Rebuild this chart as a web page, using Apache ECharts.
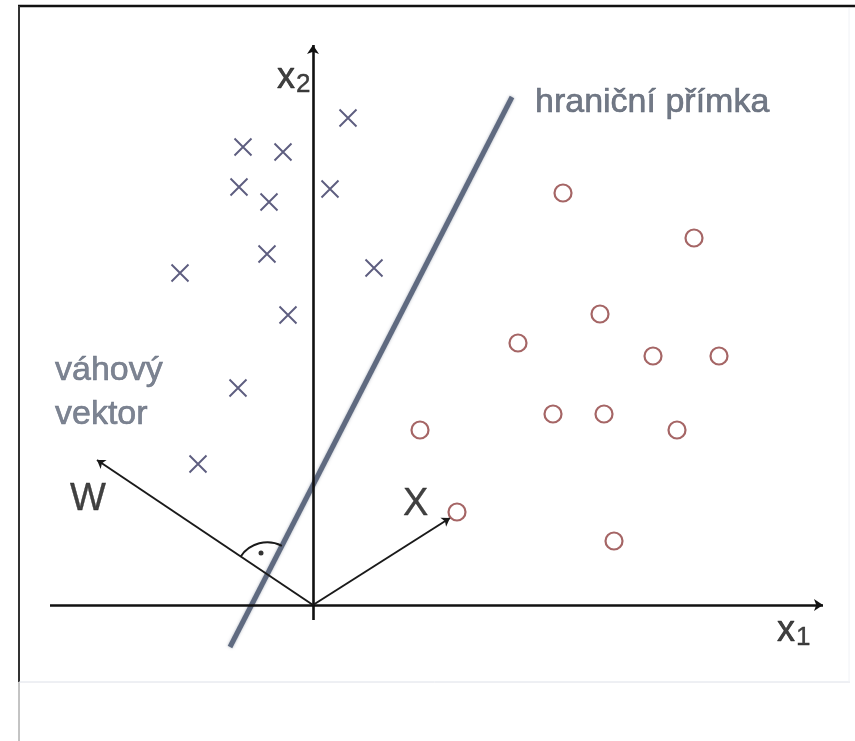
<!DOCTYPE html>
<html>
<head>
<meta charset="utf-8">
<style>
  html, body { margin: 0; padding: 0; background: #fff; }
  #chart { width: 855px; height: 741px; }
</style>
<script src="https://cdn.jsdelivr.net/npm/echarts@6/dist/echarts.min.js"></script>
</head>
<body>
<div id="chart"></div>
<script>
// x (třída 1) – souřadnice x1, x2
const crossX = [3.5, -7.0, -3.0, -7.4, 1.7, -4.4, -4.6, -13.3, 6.1, -2.5, -7.5, -11.5];
const crossY = [48.7, 45.8, 45.3, 41.8, 41.6, 40.3, 35.1, 33.2, 33.7, 29.0, 21.7, 14.1];
// o (třída 2)
const circleX = [25.0, 38.1, 28.7, 20.5, 34.0, 40.6, 24.0, 29.1, 10.7, 36.4, 14.4, 30.1];
const circleY = [41.2, 36.7, 29.1, 26.2, 24.9, 24.9, 19.1, 19.1, 17.5, 17.5, 9.3, 6.4];

// osy, vektory a hraniční přímka
const axisX1 = [[-26.3, 0], [51.0, 0]];
const axisX2 = [[0, -1.5], [0, 56.0]];
const vectorW = [[0, 0], [-21.6, 14.5]];
const vectorX = [[0, 0], [13.7, 8.7]];
const boundary = [[-8.3, -4.2], [19.9, 50.8]];
const rightAngleDot = [-5.2, 5.2];

// popisky
const labelTexts = ['hraniční přímka', 'váhový\nvektor', 'W', 'X', '{v|x}{s|2}', '{v|x}{s|1}'];
const labelPos = [[22.2, 50.2], [-25.8, 21.2], [-24.3, 10.5], [9.0, 10.0], [-3.6, 52.7], [46.4, -2.6]];

const chart = echarts.init(document.getElementById('chart'));

const zip = (xs, ys) => xs.map((x, i) => [x, ys[i]]);

function intersect(a, b) {
  // průsečík dvou přímek zadaných body (v pixelech)
  const [p1, p2] = a, [p3, p4] = b;
  const d = (p1[0] - p2[0]) * (p3[1] - p4[1]) - (p1[1] - p2[1]) * (p3[0] - p4[0]);
  const t = ((p1[0] - p3[0]) * (p3[1] - p4[1]) - (p1[1] - p3[1]) * (p3[0] - p4[0])) / d;
  return [p1[0] + t * (p2[0] - p1[0]), p1[1] + t * (p2[1] - p1[1])];
}

const subRich = {
  v: { fontSize: 36, color: '#111', fontFamily: 'Liberation Sans', textBorderColor: '#111', textBorderWidth: 0.6 },
  s: { fontSize: 26, color: '#111', padding: [14, 0, 0, 1], fontFamily: 'Liberation Sans', textBorderColor: '#111', textBorderWidth: 0.4 }
};

const labelStyles = [
  { fontSize: 34, color: '#4f5768', textBorderColor: '#4f5768', textBorderWidth: 0.6 },
  { fontSize: 34, color: '#5d6577', lineHeight: 44, textBorderColor: '#5d6577', textBorderWidth: 0.6 },
  { fontSize: 38, color: '#111', textBorderColor: '#111', textBorderWidth: 0.4 },
  { fontSize: 38, color: '#111', textBorderColor: '#111', textBorderWidth: 0.4 },
  { color: '#111', rich: subRich },
  { color: '#111', rich: subRich }
];

const option = {
  animation: false,
  backgroundColor: '#fff',
  grid: { left: 0, right: 0, top: 0, bottom: 0 },
  xAxis: { type: 'value', min: -31.3, max: 54.2, show: false },
  yAxis: { type: 'value', min: -13.6, max: 60.5, show: false },
  graphic: [
    // rámeček obrázku
    { type: 'line', shape: { x1: 18, y1: 6, x2: 855, y2: 6 }, style: { stroke: '#111', lineWidth: 2.5 } },
    { type: 'line', shape: { x1: 19, y1: 6, x2: 19, y2: 682 }, style: { stroke: '#333', lineWidth: 2 } },
    { type: 'line', shape: { x1: 19, y1: 682, x2: 19, y2: 741 }, style: { stroke: '#888', lineWidth: 1 } },
    { type: 'line', shape: { x1: 19, y1: 682, x2: 850, y2: 682 }, style: { stroke: '#dde0e8', lineWidth: 1 } },
    { type: 'line', shape: { x1: 849, y1: 8, x2: 849, y2: 682 }, style: { stroke: '#f0f2f6', lineWidth: 1 } }
  ],
  series: [
    {
      name: 'boundary',
      type: 'lines',
      coordinateSystem: 'cartesian2d',
      polyline: false,
      symbol: 'none',
      lineStyle: { color: '#5f6a80', width: 5, opacity: 1, shadowColor: 'rgba(96,107,128,0.5)', shadowBlur: 3 },
      data: [{ coords: boundary }],
      z: 2
    },
    {
      name: 'axes',
      type: 'lines',
      coordinateSystem: 'cartesian2d',
      symbol: ['none', 'arrow'],
      symbolSize: 9,
      lineStyle: { color: '#111', width: 2.6, opacity: 1 },
      data: [{ coords: axisX1 }, { coords: axisX2 }],
      z: 3
    },
    {
      name: 'vectors',
      type: 'lines',
      coordinateSystem: 'cartesian2d',
      symbol: ['none', 'arrow'],
      symbolSize: 8,
      lineStyle: { color: '#1a1a1a', width: 2, opacity: 1 },
      data: [{ coords: vectorW }, { coords: vectorX }],
      z: 3
    },
    {
      name: 'rightAngle',
      type: 'custom',
      data: [0],
      renderItem: function (params, api) {
        const o = api.coord(vectorW[0]);
        const w = api.coord(vectorW[1]);
        const b0 = api.coord(boundary[0]);
        const b1 = api.coord(boundary[1]);
        const c = intersect([o, w], [b0, b1]);
        const a1 = Math.atan2(w[1] - o[1], w[0] - o[0]);
        const a2 = Math.atan2(b1[1] - b0[1], b1[0] - b0[0]);
        return {
          type: 'arc',
          shape: { cx: c[0], cy: c[1], r: 32, startAngle: a1, endAngle: a2, clockwise: true },
          style: { stroke: '#1a1a1a', fill: null, lineWidth: 2 }
        };
      },
      z: 3
    },
    {
      name: 'dot',
      type: 'scatter',
      symbol: 'circle',
      symbolSize: 5,
      itemStyle: { color: '#000' },
      data: [rightAngleDot],
      z: 4
    },
    {
      name: 'x',
      type: 'scatter',
      symbol: 'path://M0,0 L10,10 M10,0 L0,10',
      symbolSize: 17,
      itemStyle: { color: 'none', borderColor: '#35355f', borderWidth: 1.9 },
      data: zip(crossX, crossY),
      z: 5
    },
    {
      name: 'o',
      type: 'scatter',
      symbol: 'circle',
      symbolSize: 17,
      itemStyle: { color: '#fff', borderColor: '#8e3e3e', borderWidth: 2.2 },
      data: zip(circleX, circleY),
      z: 5
    },
    {
      name: 'labels',
      type: 'scatter',
      symbolSize: 0,
      silent: true,
      data: labelPos.map((p, i) => ({
        value: p,
        label: Object.assign({
          show: true,
          position: 'right',
          distance: 0,
          align: 'left',
          verticalAlign: 'middle',
          fontFamily: 'Liberation Sans',
          formatter: labelTexts[i]
        }, labelStyles[i])
      })),
      z: 6
    }
  ]
};

chart.setOption(option);
</script>
</body>
</html>
